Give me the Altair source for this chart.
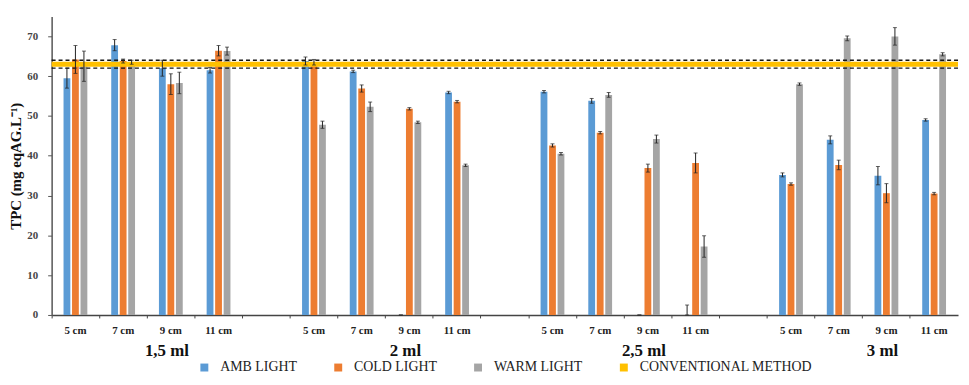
import altair as alt
import pandas as pd

SERIF = "Liberation Serif, Times New Roman, serif"

groups = ["1,5 ml", "2 ml", "2,5 ml", "3 ml"]
distances = ["5 cm", "7 cm", "9 cm", "11 cm"]
series = ["AMB LIGHT", "COLD LIGHT", "WARM LIGHT"]
legend_items = series + ["CONVENTIONAL METHOD"]
colors = ["#5B9BD5", "#ED7D31", "#A5A5A5", "#FFC000"]

# values per (group, distance), in order 1,5 ml 5..11 cm, 2 ml ..., 2,5 ml ..., 3 ml ...
amb = [59.5, 67.8, 62.0, 61.5, 63.8, 61.2, 0.0, 55.9, 56.1, 53.8, 0.0, 0.0, 35.2, 44.0, 35.0, 49.0]
amb_err = [2.5, 1.4, 2.0, 0.7, 1.0, 0.3, 0.0, 0.3, 0.3, 0.6, 0.0, 2.5, 0.5, 1.0, 2.3, 0.3]
cold = [64.2, 63.8, 58.0, 66.4, 63.5, 56.9, 51.8, 53.6, 42.6, 45.8, 36.9, 38.2, 32.9, 37.7, 30.6, 30.5]
cold_err = [3.5, 0.5, 2.6, 1.3, 0.7, 0.9, 0.3, 0.3, 0.4, 0.3, 1.0, 2.5, 0.3, 1.2, 2.4, 0.3]
warm = [62.5, 63.5, 58.3, 66.3, 47.8, 52.3, 48.4, 37.6, 40.5, 55.3, 44.2, 17.2, 58.0, 69.5, 70.0, 65.5]
warm_err = [3.8, 0.5, 2.7, 1.0, 0.9, 1.2, 0.3, 0.3, 0.3, 0.6, 1.0, 2.7, 0.3, 0.6, 2.2, 0.4]

conv_mean = 63.0
conv_err = 1.0
y_ticks = [0, 10, 20, 30, 40, 50, 60, 70]
y_max = 75

# ---- build tables ----
slots = []
for i, g in enumerate(groups):
    for d in distances:
        slots.append(f"{g}|{d}")
    if i < len(groups) - 1:
        slots.append(f"gap{i}")

vals = {"AMB LIGHT": (amb, amb_err), "COLD LIGHT": (cold, cold_err), "WARM LIGHT": (warm, warm_err)}
rows = []
for s in series:
    v, e = vals[s]
    k = 0
    for g in groups:
        for d in distances:
            rows.append(dict(slot=f"{g}|{d}", series=s, value=v[k],
                             lo=max(0.0, v[k] - e[k]), hi=v[k] + e[k]))
            k += 1
df = pd.DataFrame(rows)

group_df = pd.DataFrame({"group": groups, "slot": [f"{g}|{distances[1]}" for g in groups]})
conv_df = pd.DataFrame({"m": [conv_mean], "label": ["CONVENTIONAL METHOD"]})
band_df = pd.DataFrame({"y": [conv_mean - conv_err, conv_mean + conv_err]})

# ---- scales / axes ----
x_scale = alt.Scale(domain=slots, paddingInner=0, paddingOuter=0)
xo_scale = alt.Scale(domain=series, range=[12, 36], paddingInner=0.2, paddingOuter=0)
y_scale = alt.Scale(domain=[0, y_max], nice=False)
color_scale = alt.Scale(domain=legend_items, range=colors)

x_axis = alt.Axis(
    title=None,
    labelExpr="indexof(datum.value, 'gap') >= 0 ? '' : split(datum.value, '|')[1]",
    labelAngle=0, labelFont=SERIF, labelFontSize=11, labelFontWeight="bold",
    labelColor="#222", labelPadding=7, ticks=True, tickSize=3, tickColor="#444",
    bandPosition=0, domainColor="#444", domainWidth=1.5, grid=False,
)
y_axis = alt.Axis(
    values=y_ticks, title="TPC (mg eqAG.L⁻¹)", titleFont=SERIF, titleFontSize=15,
    titleFontWeight="bold", titleColor="#111", titlePadding=3,
    labelFont=SERIF, labelFontSize=11, labelFontWeight="bold", labelColor="#444",
    labelPadding=10, tickSize=4, tickColor="#555", domainColor="#555", domainWidth=1.5,
    grid=False,
)

X = alt.X("slot:N", scale=x_scale, axis=x_axis)
XO = alt.XOffset("series:N", scale=xo_scale)

def Y(field):
    return alt.Y(field, scale=y_scale, axis=y_axis)

bars = alt.Chart(df).mark_bar().encode(
    x=X, xOffset=XO, y=Y("value:Q"),
    color=alt.Color("series:N", scale=color_scale, legend=alt.Legend(
        title=None, orient="none", legendX=147, legendY=347, direction="horizontal",
        columns=4, symbolType="square", symbolSize=64, symbolStrokeWidth=0,
        labelFont=SERIF, labelFontSize=14, labelColor="#222", columnPadding=34,
        labelOffset=9, labelLimit=0,
    )),
)

err = alt.Chart(df).mark_rule(color="#222", strokeWidth=1).encode(
    x=X, xOffset=XO, y=Y("lo:Q"), y2="hi:Q")
cap_hi = alt.Chart(df).mark_tick(orient="horizontal", size=4, thickness=1, color="#222").encode(
    x=X, xOffset=XO, y=Y("hi:Q"))
cap_lo = alt.Chart(df).mark_tick(orient="horizontal", size=4, thickness=1, color="#222").encode(
    x=X, xOffset=XO, y=Y("lo:Q"))

conv = alt.Chart(conv_df).mark_rule(strokeWidth=5).encode(
    y=Y("m:Q"), color=alt.Color("label:N", scale=color_scale))
band = alt.Chart(band_df).mark_rule(color="#111", strokeWidth=1.3, strokeDash=[4, 3]).encode(
    y=Y("y:Q"))

glabels = alt.Chart(group_df).mark_text(
    font=SERIF, fontSize=17, fontWeight="bold", baseline="middle", color="#111", dx=20
).encode(
    x=alt.X("slot:N", scale=x_scale, axis=x_axis, bandPosition=1),
    y=alt.value(337),
    text="group:N",
)

chart = alt.layer(bars, conv, band, err, cap_hi, cap_lo, glabels).properties(
    width=914, height=301,
    padding={"left": 44, "top": 7, "right": 3, "bottom": 61},
    autosize=alt.AutoSizeParams(type="none"),
    background="white",
).configure_view(stroke=None)

chart.save("out.html", embed_options={"renderer": "svg", "actions": False})
